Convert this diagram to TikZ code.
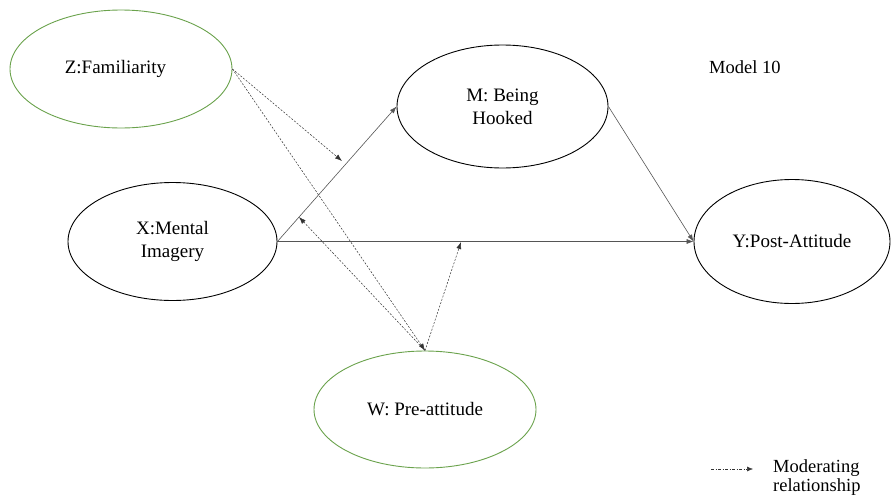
\documentclass[tikz,border=0pt]{standalone}
\usepackage{fontspec}
\setmainfont{Liberation Serif}
\newfontfamily\tnr{Liberation Serif}
\usetikzlibrary{shapes.geometric,arrows.meta}
\definecolor{ovgreen}{HTML}{6AA24C}
\definecolor{linegray}{HTML}{555555}
\tikzset{
  construct/.style={ellipse,draw=black,line width=0.9pt,inner sep=0pt,align=center,
    font=\tnr\fontsize{19}{23}\selectfont},
  modconstruct/.style={construct,draw=ovgreen},
  path/.style={draw=linegray,line width=0.6pt,-{Latex[length=7pt,width=5pt]}},
  modpath/.style={draw=black!80,line width=0.5pt,dash pattern=on 2pt off 1.5pt,-{Latex[length=7pt,width=5pt]}},
  plain/.style={inner sep=0pt,font=\tnr\fontsize{18.5}{19}\selectfont}
}
\begin{document}
\begin{tikzpicture}[x=1pt,y=-1pt]
\useasboundingbox (0,0) rectangle (892,498);
\node[modconstruct,minimum width=222pt,minimum height=118pt] (Z) at (121,69) {Z:Familiarity\hspace*{11pt}};
\node[construct,minimum width=211pt,minimum height=123pt] (M) at (502.5,106.5) {M: Being\\Hooked};
\node[construct,minimum width=209pt,minimum height=118pt] (X) at (172.5,241.5) {X:Mental\\Imagery};
\node[construct,minimum width=196pt,minimum height=124pt] (Y) at (792,241.5) {Y:Post-Attitude};
\node[modconstruct,minimum width=222pt,minimum height=117pt] (W) at (425,409.5) {W: Pre-attitude};
\node[plain,anchor=west] (model) at (709,67) {Model 10};
% main paths
\draw[path] (X.east) -- (M.west);
\draw[path] (X.east) -- (Y.west);
\draw[path] (M.east) -- (Y.west);
% moderating paths
\coordinate (zxm) at (342,161);
\coordinate (wxm) at (299,217);
\coordinate (wxy) at (461,242);
\draw[modpath] (Z.east) -- (zxm);
\draw[modpath] (Z.east) -- (W.north);
\draw[modpath] (W.north) -- (wxm);
\draw[modpath] (W.north) -- (wxy);
% legend
\coordinate (lgA) at (711,469);
\coordinate (lgB) at (753,469);
\draw[draw=black!80,line width=0.5pt,dash pattern=on 3pt off 1.5pt on 1pt off 1.5pt,-{Latex[length=6pt,width=5pt]}] (lgA) -- (lgB);
\node[plain,anchor=west,align=left] (legend) at (773,478) {Moderating\\relationship};
\end{tikzpicture}
\end{document}
